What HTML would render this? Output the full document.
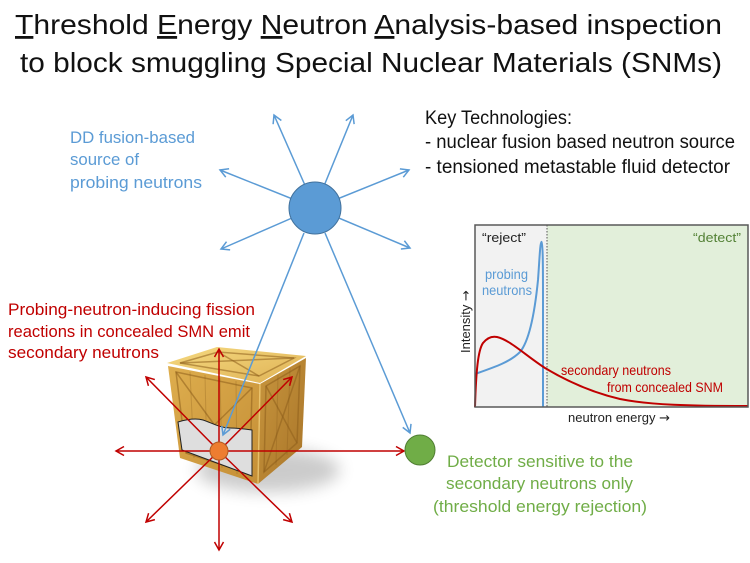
<!DOCTYPE html>
<html>
<head>
<meta charset="utf-8">
<style>
  html,body{margin:0;padding:0;background:#fff;}
  svg{display:block;}
  text{font-family:"Liberation Sans", Arial, sans-serif;}
  .arr{font-family:"DejaVu Sans", sans-serif;}
</style>
</head>
<body>
<svg width="750" height="563" viewBox="0 0 750 563" xmlns="http://www.w3.org/2000/svg">
  <defs>
    <marker id="ab" markerWidth="12" markerHeight="12" viewBox="-10 -6 12 12" refX="0" refY="0" orient="auto" markerUnits="userSpaceOnUse">
      <path d="M-8,-4.5 L0,0 L-8,4.5" fill="none" stroke="#5b9bd5" stroke-width="1.5"/>
    </marker>
    <marker id="ar" markerWidth="12" markerHeight="12" viewBox="-10 -6 12 12" refX="0" refY="0" orient="auto" markerUnits="userSpaceOnUse">
      <path d="M-8,-4.5 L0,0 L-8,4.5" fill="none" stroke="#c00000" stroke-width="1.5"/>
    </marker>
    <filter id="blur" x="-50%" y="-50%" width="200%" height="200%">
      <feGaussianBlur stdDeviation="8"/>
    </filter>
    <linearGradient id="gFront" x1="0" y1="0" x2="1" y2="1">
      <stop offset="0" stop-color="#deae4e"/>
      <stop offset="1" stop-color="#c48e36"/>
    </linearGradient>
    <linearGradient id="gRight" x1="0" y1="0" x2="1" y2="1">
      <stop offset="0" stop-color="#c8963e"/>
      <stop offset="1" stop-color="#a87428"/>
    </linearGradient>
    <linearGradient id="gTop" x1="0" y1="0" x2="1" y2="1">
      <stop offset="0" stop-color="#f5d980"/>
      <stop offset="1" stop-color="#dfb255"/>
    </linearGradient>
  </defs>

  <!-- Title -->
  <text x="15" y="34" font-size="28" fill="#111" textLength="707" lengthAdjust="spacingAndGlyphs"><tspan text-decoration="underline">T</tspan>hreshold <tspan text-decoration="underline">E</tspan>nergy <tspan text-decoration="underline">N</tspan>eutron <tspan text-decoration="underline">A</tspan>nalysis-based inspection</text>
  <text x="20" y="72" font-size="28" fill="#111" textLength="702" lengthAdjust="spacingAndGlyphs">to block smuggling Special Nuclear Materials (SNMs)</text>

  <!-- Key technologies -->
  <text x="425" y="124" font-size="19" fill="#111" textLength="147" lengthAdjust="spacingAndGlyphs">Key Technologies:</text>
  <text x="425" y="148" font-size="19" fill="#111" textLength="310" lengthAdjust="spacingAndGlyphs">- nuclear fusion based neutron source</text>
  <text x="425" y="173" font-size="19" fill="#111" textLength="305" lengthAdjust="spacingAndGlyphs">- tensioned metastable fluid detector</text>

  <!-- DD source text -->
  <text x="70" y="143" font-size="17" fill="#5b9bd5" textLength="125" lengthAdjust="spacingAndGlyphs">DD fusion-based</text>
  <text x="70" y="165" font-size="17" fill="#5b9bd5" textLength="69" lengthAdjust="spacingAndGlyphs">source of</text>
  <text x="70" y="188" font-size="17" fill="#5b9bd5" textLength="132" lengthAdjust="spacingAndGlyphs">probing neutrons</text>

  <!-- Red text -->
  <text x="8" y="315" font-size="16.5" fill="#c00000" textLength="247" lengthAdjust="spacingAndGlyphs">Probing-neutron-inducing fission</text>
  <text x="8" y="337" font-size="16.5" fill="#c00000" textLength="242" lengthAdjust="spacingAndGlyphs">reactions in concealed SMN emit</text>
  <text x="8" y="358" font-size="16.5" fill="#c00000" textLength="151" lengthAdjust="spacingAndGlyphs">secondary neutrons</text>

  <!-- Green text -->
  <text x="447" y="467" font-size="17" fill="#70ad47" textLength="186" lengthAdjust="spacingAndGlyphs">Detector sensitive to the</text>
  <text x="446" y="489" font-size="17" fill="#70ad47" textLength="187" lengthAdjust="spacingAndGlyphs">secondary neutrons only</text>
  <text x="433" y="512" font-size="17" fill="#70ad47" textLength="214" lengthAdjust="spacingAndGlyphs">(threshold energy rejection)</text>

  <!-- Chart -->
  <rect x="475" y="225" width="72" height="182" fill="#f2f2f2"/>
  <rect x="547" y="225" width="201" height="182" fill="#e2efda"/>
  <line x1="547" y1="225" x2="547" y2="407" stroke="#555" stroke-width="1" stroke-dasharray="1.5,1.5"/>
  <path d="M475,374 C495,367 510,362 520,352 C530,340 535,310 538,280 C539.5,260 540,243 541.5,242 C543,243 543,270 543,300 L543,407" fill="none" stroke="#5b9bd5" stroke-width="2"/>
  <path d="M475,407 C476,372 478,350 483,343 C487,338 492,336 497,337 C510,340 525,355 545,368 C565,380 590,392 620,399 C650,405 690,406 748,406" fill="none" stroke="#c00000" stroke-width="2"/>
  <rect x="475" y="225" width="273" height="182" fill="none" stroke="#595959" stroke-width="1.5"/>
  <text x="482" y="242" font-size="13" fill="#222" textLength="44" lengthAdjust="spacingAndGlyphs">“reject”</text>
  <text x="693" y="242" font-size="13" fill="#538135" textLength="48" lengthAdjust="spacingAndGlyphs">“detect”</text>
  <text x="485" y="279" font-size="14" fill="#5b9bd5" textLength="43" lengthAdjust="spacingAndGlyphs">probing</text>
  <text x="482" y="295" font-size="14" fill="#5b9bd5" textLength="50" lengthAdjust="spacingAndGlyphs">neutrons</text>
  <text x="561" y="375" font-size="14" fill="#c00000" textLength="110" lengthAdjust="spacingAndGlyphs">secondary neutrons</text>
  <text x="607" y="392" font-size="14" fill="#c00000" textLength="116" lengthAdjust="spacingAndGlyphs">from concealed SNM</text>
  <text x="568" y="422" font-size="13" fill="#222">neutron energy <tspan class="arr">→</tspan></text>
  <text transform="translate(470,353) rotate(-90)" x="0" y="0" font-size="13" fill="#222">Intensity <tspan class="arr">→</tspan></text>

  <!-- Crate shadow -->
  <ellipse cx="268" cy="470" rx="72" ry="22" fill="#000" opacity="0.2" filter="url(#blur)"/>
  <!-- Crate faces -->
  <polygon points="168,366 260,384 258,484 180,458" fill="url(#gFront)"/>
  <polygon points="260,384 306,358 302,447 258,484" fill="url(#gRight)"/>
  <polygon points="167,363 217,347 306,356 260,383" fill="url(#gTop)"/>
  <!-- Crate details -->
  <g fill="none" stroke="#8e5f1c" stroke-opacity="0.55" stroke-width="1.5">
    <polygon points="176,372 252,388 250,474 186,453"/>
    <line x1="176" y1="372" x2="250" y2="474"/>
    <line x1="252" y1="388" x2="186" y2="453"/>
    <polygon points="266,386 300,366 297,443 264,472"/>
    <line x1="266" y1="386" x2="297" y2="443"/>
    <line x1="300" y1="366" x2="264" y2="472"/>
    <polygon points="180,363 218,352 294,358 259,376"/>
    <line x1="180" y1="363" x2="294" y2="358"/>
    <line x1="218" y1="352" x2="259" y2="376"/>
  </g>
  <g stroke="#7a4f15" stroke-opacity="0.25" stroke-width="1">
    <line x1="190" y1="372" x2="194" y2="458"/>
    <line x1="205" y1="375" x2="207" y2="463"/>
    <line x1="220" y1="378" x2="222" y2="468"/>
    <line x1="236" y1="381" x2="237" y2="474"/>
    <line x1="278" y1="375" x2="276" y2="465"/>
    <line x1="290" y1="368" x2="287" y2="455"/>
  </g>
  <line x1="260" y1="384" x2="258" y2="484" stroke="#f5d27a" stroke-width="1.5" stroke-opacity="0.7"/>
  <!-- Cutout panel -->
  <path d="M178,422 C188,419 196,418 203,420 C212,423 220,428 230,428 C238,428 245,429 252,430 L252,476 L182,450 Z" fill="#dedede" stroke="#222" stroke-width="1"/>

  <!-- Blue arrows -->
  <g stroke="#5b9bd5" stroke-width="1.5" fill="none">
    <line x1="315" y1="208" x2="274" y2="115" marker-end="url(#ab)"/>
    <line x1="315" y1="208" x2="353" y2="115" marker-end="url(#ab)"/>
    <line x1="315" y1="208" x2="220" y2="170" marker-end="url(#ab)"/>
    <line x1="315" y1="208" x2="409" y2="170" marker-end="url(#ab)"/>
    <line x1="315" y1="208" x2="221" y2="249" marker-end="url(#ab)"/>
    <line x1="315" y1="208" x2="410" y2="248" marker-end="url(#ab)"/>
    <line x1="304" y1="233" x2="223" y2="435" marker-end="url(#ab)"/>
    <line x1="325" y1="233" x2="410" y2="433" marker-end="url(#ab)"/>
  </g>
  <circle cx="315" cy="208" r="26" fill="#5b9bd5" stroke="#41719c" stroke-width="1"/>

  <!-- Red arrows -->
  <g stroke="#c00000" stroke-width="1.5" fill="none">
    <line x1="219" y1="451" x2="219" y2="349" marker-end="url(#ar)"/>
    <line x1="219" y1="451" x2="219" y2="550" marker-end="url(#ar)"/>
    <line x1="219" y1="451" x2="116" y2="451" marker-end="url(#ar)"/>
    <line x1="219" y1="451" x2="404" y2="451" marker-end="url(#ar)"/>
    <line x1="219" y1="451" x2="146" y2="377" marker-end="url(#ar)"/>
    <line x1="219" y1="451" x2="292" y2="377" marker-end="url(#ar)"/>
    <line x1="219" y1="451" x2="146" y2="522" marker-end="url(#ar)"/>
    <line x1="219" y1="451" x2="292" y2="522" marker-end="url(#ar)"/>
  </g>
  <circle cx="219" cy="451" r="9" fill="#ed7d31" stroke="#ae5a21" stroke-width="1"/>

  <!-- Detector -->
  <circle cx="420" cy="450" r="15" fill="#70ad47" stroke="#507e32" stroke-width="1"/>
</svg>
</body>
</html>
